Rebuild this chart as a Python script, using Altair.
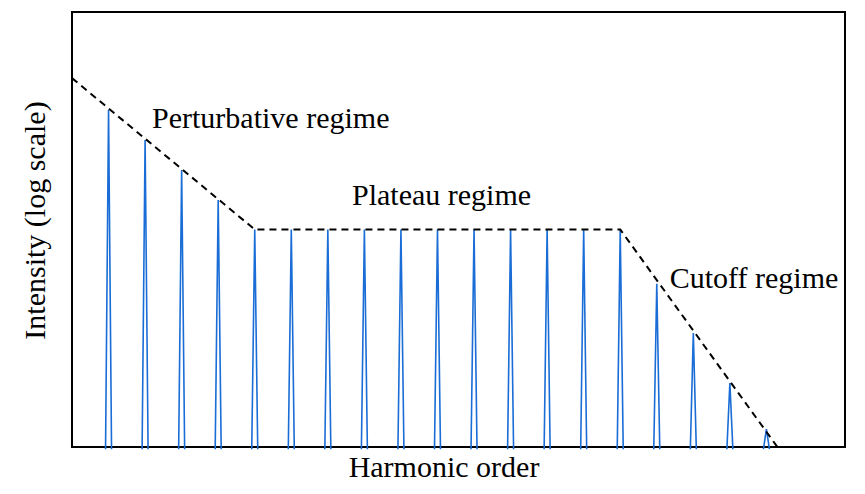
import altair as alt
import pandas as pd

# Harmonic orders (odd) and peak intensities (log units, arbitrary)
harmonics = [3, 5, 7, 9, 11, 13, 15, 17, 19, 21, 23, 25, 27, 29, 31, 33, 35, 37, 39]
intensity = [7.75, 7.06, 6.37, 5.68, 5.0, 5.0, 5.0, 5.0, 5.0, 5.0, 5.0, 5.0, 5.0, 5.0, 5.0,
             3.75, 2.62, 1.47, 0.41]
peak_halfwidth = 0.164
peak_floor = -0.05

# Envelope (dashed) vertices
env_order = [1.0, 11.0, 31.0, 39.6]
env_level = [8.48, 5.0, 5.0, 0.0]

# Annotations
ann_text = ["Perturbative regime", "Plateau regime", "Cutoff regime"]
ann_x = [5.38, 16.32, 33.71]
ann_y = [7.33, 5.56, 3.66]

rows = []
for q, h in zip(harmonics, intensity):
    rows.append({"q": q - peak_halfwidth, "I": peak_floor, "peak": q, "o": 0})
    rows.append({"q": q, "I": h, "peak": q, "o": 1})
    rows.append({"q": q + peak_halfwidth, "I": peak_floor, "peak": q, "o": 2})
peaks = pd.DataFrame(rows)
env = pd.DataFrame({"q": env_order, "I": env_level, "o": range(len(env_order))})
ann = pd.DataFrame({"q": ann_x, "I": ann_y, "t": ann_text})

FONT = "Liberation Serif"
xs = alt.Scale(domain=[1.0, 43.3], nice=False, zero=False)
ys = alt.Scale(domain=[0, 10], nice=False, zero=False)

x_axis = alt.Axis(title="Harmonic order", labels=False, ticks=False, domain=False, grid=False,
                  titleFont=FONT, titleFontSize=30, titleFontWeight="normal", titleColor="black",
                  titleX=371.5, titleY=29, titleAlign="center", titleBaseline="alphabetic")
y_axis = alt.Axis(title="Intensity (log scale)", labels=False, ticks=False, domain=False, grid=False,
                  titleFont=FONT, titleFontSize=30, titleFontWeight="normal", titleColor="black",
                  titleX=-37, titleY=208, titleAlign="center", titleBaseline="middle", titleAngle=-90)

peak_layer = alt.Chart(peaks).mark_line(color="#1a6dd6", strokeWidth=1.6).encode(
    x=alt.X("q:Q", scale=xs, axis=x_axis),
    y=alt.Y("I:Q", scale=ys, axis=y_axis),
    detail="peak:N",
    order="o:Q",
)

env_layer = alt.Chart(env).mark_line(color="black", strokeWidth=2, strokeDash=[7, 5]).encode(
    x=alt.X("q:Q", scale=xs),
    y=alt.Y("I:Q", scale=ys),
    order="o:Q",
)

text_layer = alt.Chart(ann).mark_text(font=FONT, fontSize=30, align="left", baseline="alphabetic",
                                      color="black").encode(
    x=alt.X("q:Q", scale=xs),
    y=alt.Y("I:Q", scale=ys),
    text="t:N",
)

chart = alt.layer(peak_layer, env_layer, text_layer).properties(
    width=773, height=435,
    autosize=alt.AutoSizeParams(type="none"),
    padding={"left": 64, "top": 4, "right": 10, "bottom": 40},
    background="white",
).configure_view(stroke="black", strokeWidth=2, strokeOpacity=1)

chart.save("out.html", embed_options={"renderer": "svg", "actions": False})
